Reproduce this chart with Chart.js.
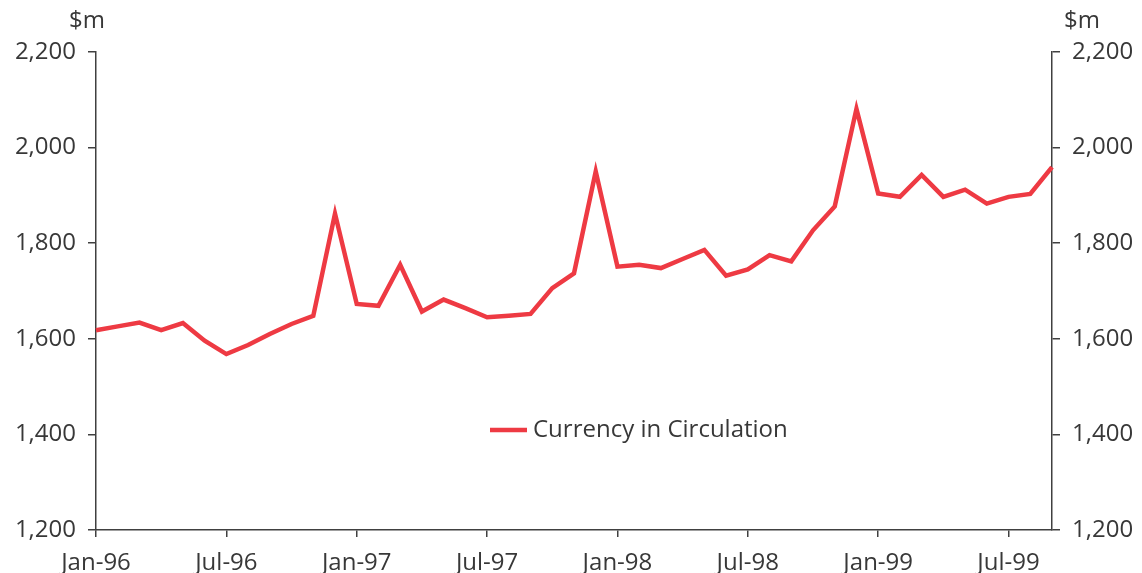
<!DOCTYPE html>
<html lang="en">

<head>
    <meta charset="UTF-8">
    <script src="https://cdn.jsdelivr.net/npm/chart.js"></script>
    <style>
        body {
            margin: 0;
            background: #fff;
        }

        .wrap {
            width: 1142px;
            height: 573px;
        }
    </style>
</head>

<body>
    <div class="wrap">
        <canvas id="currencyChart" width="1142" height="573"></canvas>
    </div>

    <script>
        const months = ['Jan', 'Feb', 'Mar', 'Apr', 'May', 'Jun', 'Jul', 'Aug', 'Sep', 'Oct', 'Nov', 'Dec'];
        const years = ['96', '97', '98', '99'];
        const tickMonths = ['Jan', 'Jul'];
        const seriesLabel = 'Currency in Circulation';
        const unitLabel = '$m';

        // monthly values, Jan-96 to Sep-99
        const currency = [
            1618, 1626, 1634, 1618, 1633, 1596, 1568, 1587, 1610, 1631, 1648, 1862,
            1673, 1669, 1755, 1657, 1682, 1664, 1645, 1648, 1652, 1706, 1737, 1950,
            1751, 1755, 1748, 1767, 1786, 1732, 1745, 1775, 1762, 1827, 1877, 2081,
            1904, 1897, 1943, 1897, 1912, 1883, 1897, 1903, 1959
        ];

        const labels = [];
        years.forEach(y => months.forEach(m => labels.push(m + '-' + y)));
        labels.length = currency.length;

        const font = { family: "'Open Sans', 'DejaVu Sans', sans-serif", size: 24 };
        const textColor = '#383838';
        const axisColor = '#404040';
        const lineColor = '#ee3a43';

        const isTick = i => tickMonths.includes(labels[i].slice(0, 3));

        const extras = {
            id: 'extras',
            afterDraw(chart) {
                const ctx = chart.ctx;
                const area = chart.chartArea;
                ctx.save();
                ctx.font = font.size + 'px ' + font.family;
                ctx.fillStyle = textColor;
                ctx.textBaseline = 'middle';
                ctx.textAlign = 'center';
                ctx.fillText(unitLabel, area.left - 9, 21);
                ctx.fillText(unitLabel, area.right + 30, 21);

                // legend inside the plot
                const ly = 430;
                const lx = area.left + 394;
                ctx.strokeStyle = lineColor;
                ctx.lineWidth = 4.5;
                ctx.beginPath();
                ctx.moveTo(lx, ly);
                ctx.lineTo(lx + 37, ly);
                ctx.stroke();
                ctx.textAlign = 'left';
                ctx.fillText(seriesLabel, lx + 43, ly);
                ctx.restore();
            }
        };

        const yAxis = (position, width) => ({
            type: 'linear',
            position: position,
            min: 1200,
            max: 2200,
            afterFit: scale => { scale.width = width; },
            border: { color: axisColor, width: 1.5 },
            grid: { drawOnChartArea: false, tickLength: 8, color: axisColor, lineWidth: 1.5 },
            ticks: {
                stepSize: 200,
                padding: 12,
                color: textColor,
                font: font,
                callback: v => v.toLocaleString('en-US')
            }
        });

        new Chart(document.getElementById('currencyChart'), {
            type: 'line',
            data: {
                labels: labels,
                datasets: [{
                    label: seriesLabel,
                    data: currency,
                    borderColor: lineColor,
                    borderWidth: 4.5,
                    pointRadius: 0,
                    tension: 0,
                    yAxisID: 'y'
                }]
            },
            options: {
                responsive: false,
                animation: false,
                layout: { padding: { top: 52, left: 0, right: 0, bottom: 0 } },
                plugins: {
                    legend: { display: false },
                    tooltip: { enabled: false }
                },
                scales: {
                    x: {
                        offset: false,
                        afterFit: scale => { scale.height = 43; },
                        border: { color: axisColor, width: 1.5 },
                        grid: {
                            drawOnChartArea: false,
                            tickLength: 7,
                            lineWidth: 1.5,
                            color: c => isTick(c.index) ? axisColor : 'rgba(0,0,0,0)'
                        },
                        ticks: {
                            autoSkip: false,
                            maxRotation: 0,
                            padding: 12,
                            color: textColor,
                            font: font,
                            callback: (v, i) => isTick(i) ? labels[i] : ''
                        }
                    },
                    y: yAxis('left', 96),
                    y2: yAxis('right', 90)
                }
            },
            plugins: [extras]
        });
    </script>
</body>

</html>
